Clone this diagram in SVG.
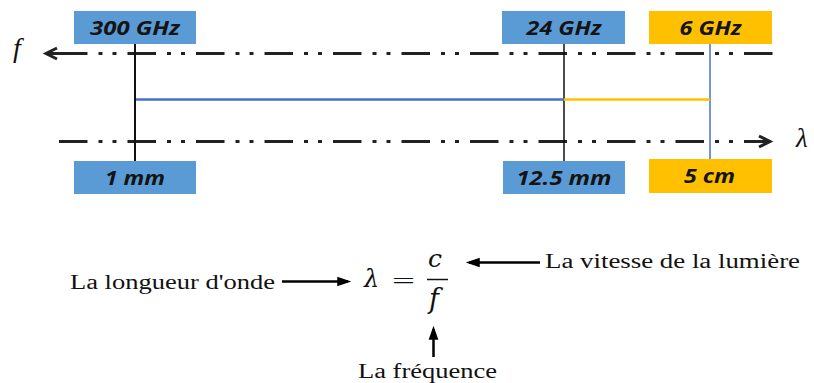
<svg xmlns="http://www.w3.org/2000/svg" width="814" height="383" viewBox="0 0 814 383">
<style>
.bx{stroke:none}
.blue{fill:#5B9BD5}
.gold{fill:#FFC000}
.bt{font-family:"Open Sans","Liberation Sans",sans-serif;font-weight:bold;font-style:italic;font-size:20px;fill:#141414;text-anchor:middle}
.sr{font-family:"Liberation Serif","Times New Roman",serif;font-size:20px;fill:#111}
.mi{font-family:"Liberation Serif","Times New Roman",serif;font-style:italic;fill:#111}
.fm{font-family:"DejaVu Serif","Liberation Serif",serif;font-style:italic;fill:#111}
.axis{stroke:#222;stroke-width:3;fill:none;stroke-dasharray:28.5 11 4 10 4 11}
.solid{stroke:#222;stroke-width:3;fill:none}
.arr{stroke:#000;stroke-width:2.5;fill:none}
</style>
<defs>
<marker id="chev" markerUnits="userSpaceOnUse" markerWidth="16" markerHeight="16" viewBox="-2 -2 16 16" refX="11" refY="5.5" orient="auto" overflow="visible">
<path d="M0,0 L11,5.5 L0,11" fill="none" stroke="#222" stroke-width="3"/>
</marker>
<marker id="tri" markerUnits="userSpaceOnUse" markerWidth="14" markerHeight="10" viewBox="0 0 13 9" refX="10" refY="4.5" orient="auto" overflow="visible">
<path d="M0,0 L13,4.5 L0,9 z" fill="#000"/>
</marker>
</defs>

<g id="connectors">
<path class="axis" d="M59,53.5 H773"/>
<path class="solid" d="M87,53.5 H46" marker-end="url(#chev)"/>
<path class="axis" d="M59,141.5 H770" marker-end="url(#chev)"/>
<line x1="135" y1="44" x2="135" y2="161" stroke="#111" stroke-width="2"/>
<line x1="564" y1="44" x2="564" y2="161" stroke="#111" stroke-width="1.5"/>
<line x1="710" y1="44" x2="710" y2="159" stroke="#4472C4" stroke-width="1.5"/>
<line x1="136" y1="99.5" x2="564" y2="99.5" stroke="#4472C4" stroke-width="2.5"/>
<line x1="564" y1="99.5" x2="710" y2="99.5" stroke="#FFC000" stroke-width="2.5"/>
<line class="arr" x1="282" y1="281.5" x2="348" y2="281.5" marker-end="url(#tri)"/>
<line class="arr" x1="540" y1="262.5" x2="469" y2="262.5" marker-end="url(#tri)"/>
<line class="arr" x1="433.5" y1="357" x2="433.5" y2="329" marker-end="url(#tri)"/>
</g>

<g id="f-label"><text class="mi" x="13" y="57" font-size="28">f</text></g>
<g id="lambda-label"><text class="mi" x="796" y="147" font-size="27">λ</text></g>

<g id="n300ghz"><rect class="bx blue" x="74" y="11" width="122" height="33"/><text class="bt" x="135" y="35" textLength="90" lengthAdjust="spacingAndGlyphs">300 GHz</text></g>
<g id="n1mm"><rect class="bx blue" x="74" y="161" width="122" height="33"/><text class="bt" x="135" y="185" textLength="60" lengthAdjust="spacingAndGlyphs">1 mm</text></g>
<g id="n24ghz"><rect class="bx blue" x="502" y="11" width="123" height="33"/><text class="bt" x="564" y="35" textLength="75" lengthAdjust="spacingAndGlyphs">24 GHz</text></g>
<g id="n125mm"><rect class="bx blue" x="503" y="161" width="122" height="33"/><text class="bt" x="564" y="185" textLength="95" lengthAdjust="spacingAndGlyphs">12.5 mm</text></g>
<g id="n6ghz"><rect class="bx gold" x="649" y="11" width="123" height="33"/><text class="bt" x="710.5" y="35" textLength="62" lengthAdjust="spacingAndGlyphs">6 GHz</text></g>
<g id="n5cm"><rect class="bx gold" x="649" y="159" width="123" height="34"/><text class="bt" x="709.5" y="183" textLength="51" lengthAdjust="spacingAndGlyphs">5 cm</text></g>

<g id="formula">
<text class="fm" x="364" y="287" font-size="24">λ</text>
<text class="sr" x="392" y="288" font-size="26" textLength="23" lengthAdjust="spacingAndGlyphs">=</text>
<line x1="427" y1="279.5" x2="448" y2="279.5" stroke="#111" stroke-width="1.5"/>
<text class="fm" x="428" y="267" font-size="25">c</text>
<text class="fm" x="429" y="308" font-size="27">f</text>
</g>

<g id="t-longueur"><text class="sr" x="70" y="289" textLength="205" lengthAdjust="spacingAndGlyphs">La longueur d'onde</text></g>
<g id="t-vitesse"><text class="sr" x="545" y="268" textLength="255" lengthAdjust="spacingAndGlyphs">La vitesse de la lumière</text></g>
<g id="t-frequence"><text class="sr" x="358" y="378" textLength="139" lengthAdjust="spacingAndGlyphs">La fréquence</text></g>
</svg>
